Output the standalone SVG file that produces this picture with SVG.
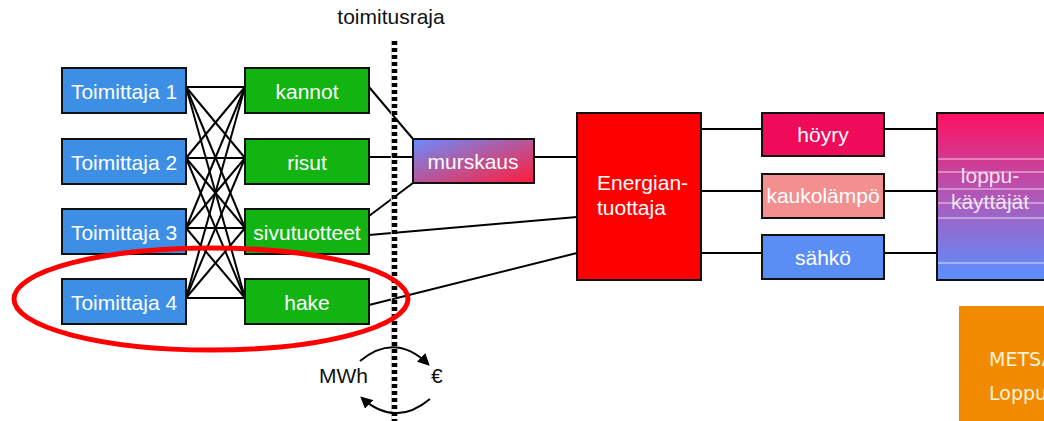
<svg xmlns="http://www.w3.org/2000/svg" width="1044" height="421" viewBox="0 0 1044 421">
  <style>
    .box { stroke: #111; stroke-width: 2; }
    .sup { fill: #3d8fe6; }
    .raw { fill: #12b412; }
    .lbl { font-family: "Liberation Sans", Arial, sans-serif; font-size: 21px; fill: #ffffff; text-anchor: middle; }
    .left { text-anchor: start; }
    .dark { font-family: "Liberation Sans", Arial, sans-serif; font-size: 21px; fill: #111; }
    .wire { stroke: #000; stroke-width: 2; fill: none; }
    .note { font-family: "DejaVu Sans", Verdana, sans-serif; font-size: 19px; fill: #fff3d6; }
  </style>
  <defs>
    <linearGradient id="gradCrush" x1="0" y1="0" x2="1" y2="1">
      <stop offset="0" stop-color="#6a8cff"/>
      <stop offset="0.55" stop-color="#c0508f"/>
      <stop offset="1" stop-color="#ff1a3a"/>
    </linearGradient>
    <linearGradient id="gradUsers" x1="0" y1="0" x2="0" y2="1">
      <stop offset="0" stop-color="#ff1060"/>
      <stop offset="0.5" stop-color="#b058b8"/>
      <stop offset="1" stop-color="#5a90ff"/>
    </linearGradient>
    <marker id="arrow" viewBox="0 0 10 10" refX="8" refY="5" markerWidth="6" markerHeight="6" orient="auto-start-reverse">
      <path d="M0,0 L10,5 L0,10 z" fill="#000"/>
    </marker>
  </defs>

  <rect width="1044" height="421" fill="#ffffff"/>

  <!-- connectors -->
  <g id="connectors" class="wire">
    <!-- every supplier to every raw material -->
    <line x1="186" y1="87" x2="245" y2="87"/>
    <line x1="186" y1="87" x2="245" y2="158"/>
    <line x1="186" y1="87" x2="245" y2="228"/>
    <line x1="186" y1="87" x2="245" y2="298"/>
    <line x1="186" y1="158" x2="245" y2="87"/>
    <line x1="186" y1="158" x2="245" y2="158"/>
    <line x1="186" y1="158" x2="245" y2="228"/>
    <line x1="186" y1="158" x2="245" y2="298"/>
    <line x1="186" y1="228" x2="245" y2="87"/>
    <line x1="186" y1="228" x2="245" y2="158"/>
    <line x1="186" y1="228" x2="245" y2="228"/>
    <line x1="186" y1="228" x2="245" y2="298"/>
    <line x1="186" y1="298" x2="245" y2="87"/>
    <line x1="186" y1="298" x2="245" y2="158"/>
    <line x1="186" y1="298" x2="245" y2="228"/>
    <line x1="186" y1="298" x2="245" y2="298"/>
    <!-- raw materials onward -->
    <line x1="369" y1="87" x2="413" y2="139"/>
    <line x1="369" y1="157" x2="413" y2="157"/>
    <line x1="369" y1="216" x2="413" y2="183"/>
    <line x1="369" y1="235" x2="577" y2="217"/>
    <line x1="369" y1="305" x2="577" y2="253"/>
    <line x1="534" y1="157" x2="577" y2="157"/>
    <!-- producer to products to end users -->
    <line x1="701" y1="129" x2="762" y2="129"/>
    <line x1="701" y1="191" x2="762" y2="191"/>
    <line x1="701" y1="253" x2="762" y2="253"/>
    <line x1="884" y1="129" x2="937" y2="129"/>
    <line x1="884" y1="191" x2="937" y2="191"/>
    <line x1="884" y1="253" x2="937" y2="253"/>
  </g>

  <!-- delivery boundary -->
  <g id="boundary">
    <text class="dark" x="391" y="24" text-anchor="middle">toimitusraja</text>
    <line x1="391.5" y1="40" x2="391.5" y2="421" stroke="#e2e2e2" stroke-width="1.2"/>
    <line x1="394.5" y1="41" x2="394.5" y2="421" stroke="#000" stroke-width="5.5" stroke-dasharray="4 3"/>
  </g>

  <!-- suppliers -->
  <g id="toimittaja1"><rect class="box sup" x="62" y="68" width="124" height="45"/><text class="lbl" x="124" y="99">Toimittaja 1</text></g>
  <g id="toimittaja2"><rect class="box sup" x="62" y="139" width="124" height="45"/><text class="lbl" x="124" y="170">Toimittaja 2</text></g>
  <g id="toimittaja3"><rect class="box sup" x="62" y="209" width="124" height="45"/><text class="lbl" x="124" y="240">Toimittaja 3</text></g>
  <g id="toimittaja4"><rect class="box sup" x="62" y="279" width="124" height="45"/><text class="lbl" x="124" y="310">Toimittaja 4</text></g>

  <!-- raw materials -->
  <g id="kannot"><rect class="box raw" x="245" y="68" width="124" height="45"/><text class="lbl" x="307" y="99">kannot</text></g>
  <g id="risut"><rect class="box raw" x="245" y="139" width="124" height="45"/><text class="lbl" x="307" y="170">risut</text></g>
  <g id="sivutuotteet"><rect class="box raw" x="245" y="209" width="124" height="45"/><text class="lbl" x="307" y="240">sivutuotteet</text></g>
  <g id="hake"><rect class="box raw" x="245" y="279" width="124" height="45"/><text class="lbl" x="307" y="310">hake</text></g>

  <!-- crushing -->
  <g id="murskaus"><rect class="box" x="413" y="139" width="121" height="44" fill="url(#gradCrush)"/><text class="lbl" x="473" y="169">murskaus</text></g>

  <!-- energy producer -->
  <g id="energiantuottaja">
    <rect class="box" x="577" y="113" width="124" height="167" fill="#ff0000"/>
    <text class="lbl left" x="597" y="190">Energian-</text>
    <text class="lbl left" x="597" y="215">tuottaja</text>
  </g>

  <!-- products -->
  <g id="hoyry"><rect class="box" x="762" y="113" width="122" height="43" fill="#ef0a5a"/><text class="lbl" x="823" y="142">höyry</text></g>
  <g id="kaukolampo"><rect class="box" x="762" y="174" width="122" height="44" fill="#f29090"/><text class="lbl" x="823" y="203">kaukolämpö</text></g>
  <g id="sahko"><rect class="box" x="762" y="235" width="122" height="44" fill="#5a8ef5"/><text class="lbl" x="823" y="265">sähkö</text></g>

  <!-- end users -->
  <g id="loppukayttajat">
    <rect class="box" x="937" y="113" width="120" height="167" fill="url(#gradUsers)"/>
    <g stroke="#ffffff" stroke-opacity="0.75" stroke-width="1">
      <line x1="938" y1="159" x2="1044" y2="159"/>
      <line x1="938" y1="172" x2="1044" y2="172"/>
      <line x1="938" y1="189" x2="1044" y2="189"/>
      <line x1="938" y1="203" x2="1044" y2="203"/>
      <line x1="938" y1="218" x2="1044" y2="218"/>
      <line x1="938" y1="263" x2="1044" y2="263"/>
    </g>
    <text class="lbl" x="990" y="183" fill-opacity="0.85">loppu-</text>
    <text class="lbl" x="990" y="209" fill-opacity="0.85">käyttäjät</text>
  </g>

  <!-- money / energy exchange -->
  <g id="exchange">
    <text class="dark" x="319" y="383">MWh</text>
    <text class="dark" x="431" y="383">€</text>
    <path class="wire" d="M360,361 Q395,332 428,364" stroke-width="2.5" marker-end="url(#arrow)"/>
    <path class="wire" d="M430,399 Q395,428 362,398" stroke-width="2.5" marker-end="url(#arrow)"/>
  </g>

  <!-- highlight -->
  <ellipse id="highlight" cx="211" cy="299" rx="197" ry="51" fill="none" stroke="#ff0000" stroke-width="5"/>

  <!-- orange caption panel -->
  <g id="caption">
    <rect x="959" y="306" width="90" height="120" fill="#f28a00"/>
    <text class="note" x="989" y="366">METSA</text>
    <text class="note" x="989" y="400">Loppu</text>
  </g>
</svg>
